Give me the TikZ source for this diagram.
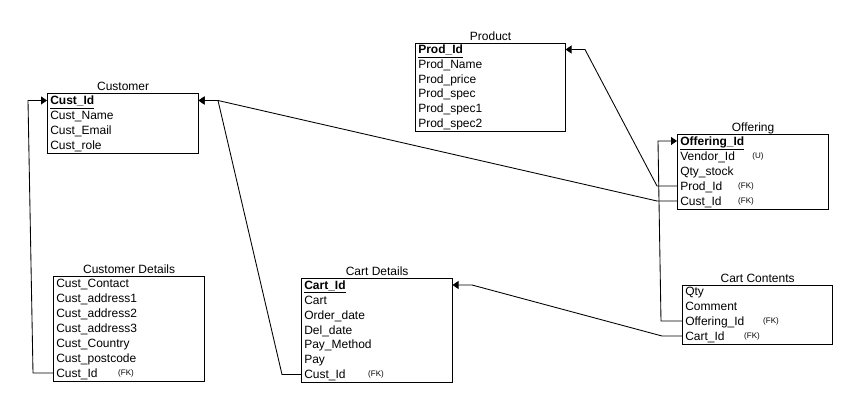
\documentclass[tikz,border=0pt]{standalone}
\usepackage{fontspec}
\setmainfont{Liberation Sans}
\usetikzlibrary{arrows.meta}
\begin{document}
\begin{tikzpicture}[x=0.75pt,y=-0.75pt,
  tbl/.style={draw,line width=0.9pt,minimum width=113.25pt,inner sep=0pt,anchor=north west},
  row/.style={anchor=west,inner xsep=2.25pt,inner ysep=0pt,text width=108.75pt,align=left,
    text height=6.5pt,text depth=0pt,font=\fontsize{9}{10}\selectfont},
  ttl/.style={anchor=base,inner sep=0pt,font=\fontsize{9}{10}\selectfont},
  tag/.style={inner sep=0pt,font=\fontsize{6}{7}\selectfont},
  fk/.style={draw,line width=0.65pt,-{Triangle[length=4.5pt,width=6pt]}}]
\useasboundingbox[fill=white] (0,0) rectangle (858,409);
% ---------- Customer
\node[tbl,minimum height=45pt] (cust) at (47,93) {};
\node[ttl] at ([yshift=1.6pt]cust.north) {Customer};
\node[row] (cu1) at (47,100.5) {\underline{\textbf{Cust\_Id}}};
\node[row] (cu2) at (47,115.5) {Cust\_Name};
\node[row] (cu3) at (47,130.5) {Cust\_Email};
\node[row] (cu4) at (47,145.5) {Cust\_role};
% ---------- Product
\node[tbl,minimum height=66pt,minimum width=112.5pt] (prod) at (415,43) {};
\node[ttl] at ([yshift=1.6pt]prod.north) {Product};
\node[row,text width=108pt] (pr1) at (415,49.5) {\underline{\textbf{Prod\_Id}}};
\node[row,text width=108pt] (pr2) at (415,64.2) {Prod\_Name};
\node[row,text width=108pt] (pr3) at (415,78.9) {Prod\_price};
\node[row,text width=108pt] (pr4) at (415,93.6) {Prod\_spec};
\node[row,text width=108pt] (pr5) at (415,108.3) {Prod\_spec1};
\node[row,text width=108pt] (pr6) at (415,123) {Prod\_spec2};
% ---------- Offering
\node[tbl,minimum height=56.25pt] (offer) at (677,134) {};
\node[ttl] at ([yshift=1.6pt]offer.north) {Offering};
\node[row] (of1) at (677,141) {\underline{\textbf{Offering\_Id}}};
\node[row] (of2) at (677,156) {Vendor\_Id};
\node[row] (of3) at (677,171) {Qty\_stock};
\node[row] (of4) at (677,186) {Prod\_Id};
\node[row] (of5) at (677,201) {Cust\_Id};
\node[tag] at (758,156) {(U)};
\node[tag] at (746,186) {(FK)};
\node[tag] at (746,201) {(FK)};
% ---------- Cart Contents
\node[tbl,minimum height=44.25pt,minimum width=112.5pt] (cartc) at (682,285) {};
\node[ttl] at ([yshift=1.6pt]cartc.north) {Cart Contents};
\node[row,text width=108pt] (cc1) at (682,291) {Qty};
\node[row,text width=108pt] (cc2) at (682,306) {Comment};
\node[row,text width=108pt] (cc3) at (682,321) {Offering\_Id};
\node[row,text width=108pt] (cc4) at (682,336) {Cart\_Id};
\node[tag] at (771,321) {(FK)};
\node[tag] at (752,336) {(FK)};
% ---------- Customer Details
\node[tbl,minimum height=78.75pt] (custd) at (53,276) {};
\node[ttl] at ([yshift=1.6pt]custd.north) {Customer Details};
\node[row] (cd1) at (53,283) {Cust\_Contact};
\node[row] (cd2) at (53,298) {Cust\_address1};
\node[row] (cd3) at (53,313) {Cust\_address2};
\node[row] (cd4) at (53,328) {Cust\_address3};
\node[row] (cd5) at (53,343) {Cust\_Country};
\node[row] (cd6) at (53,358) {Cust\_postcode};
\node[row] (cd7) at (53,373) {Cust\_Id};
\node[tag] at (126,373) {(FK)};
% ---------- Cart Details
\node[tbl,minimum height=78pt] (cartd) at (301,278) {};
\node[ttl] at ([yshift=1.6pt]cartd.north) {Cart Details};
\node[row] (ct1) at (301,285) {\underline{\textbf{Cart\_Id}}};
\node[row] (ct2) at (301,300) {Cart};
\node[row] (ct3) at (301,315) {Order\_date};
\node[row] (ct4) at (301,330) {Del\_date};
\node[row] (ct5) at (301,344.5) {Pay\_Method};
\node[row] (ct6) at (301,359.5) {Pay};
\node[row] (ct7) at (301,374.5) {Cust\_Id};
\node[tag] at (376,374.5) {(FK)};
% ---------- bend points
\coordinate (b1) at (28,100.5);
\coordinate (b2) at (218,100.5);
\coordinate (b3) at (585,49.5);
\coordinate (b4) at (658,141);
\coordinate (b5) at (472,285);
% ---------- connectors
\draw[fk] (cd7.west) -- ++(-20,0) -- (b1) -- (cu1.west);
\draw[fk] (ct7.west) -- ++(-19,0) -- (b2) -- (cu1.east);
\draw[fk] (of5.west) -- ++(-20,0) -- (b2) -- (cu1.east);
\draw[fk] (of4.west) -- ++(-20,0) -- (b3) -- (pr1.east);
\draw[fk] (cc3.west) -- ++(-21,0) -- (b4) -- (of1.west);
\draw[fk] (cc4.west) -- ++(-20,0) -- (b5) -- (ct1.east);
\end{tikzpicture}
\end{document}
